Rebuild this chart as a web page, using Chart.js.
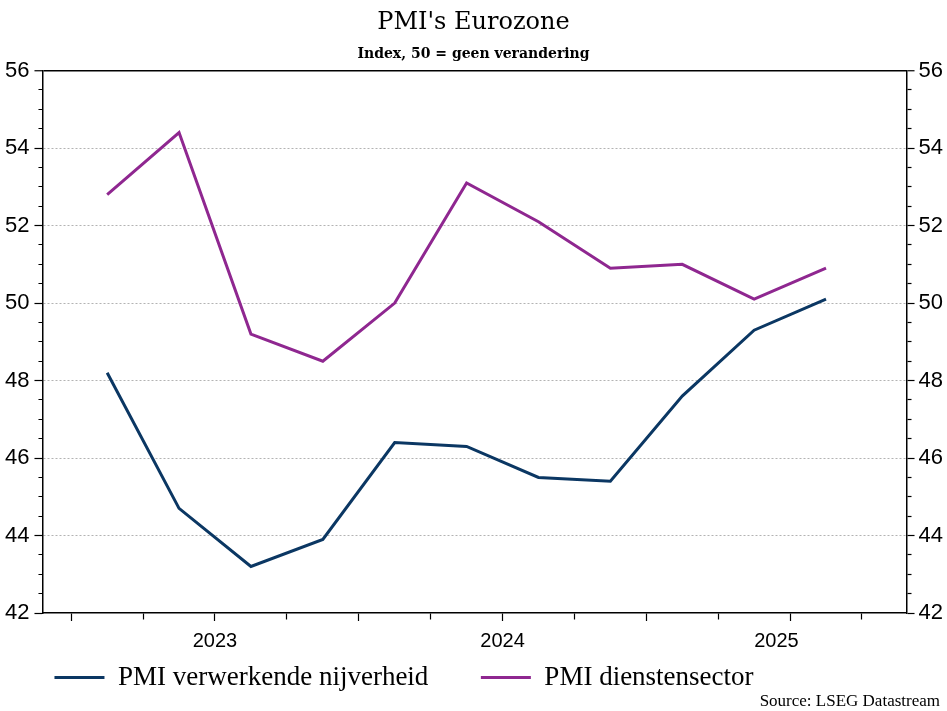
<!DOCTYPE html>
<html>
<head>
<meta charset="utf-8">
<script src="https://cdn.jsdelivr.net/npm/chart.js@4.4.1/dist/chart.umd.min.js"></script>
<style>
    html, body { margin: 0; padding: 0; background: #fff; }
    #wrap { width: 947px; height: 711px; }
</style>
</head>
<body>
<div id="wrap"><canvas id="pmi-chart"></canvas></div>
<script>
// quarterly averages, plotted mid-quarter
const quarters = ['2023Q1', '2023Q2', '2023Q3', '2023Q4', '2024Q1', '2024Q2', '2024Q3', '2024Q4', '2025Q1', '2025Q2', '2025Q3'];
const manufacturing = [48.2, 44.7, 43.2, 43.9, 46.4, 46.3, 45.5, 45.4, 47.6, 49.3, 50.1];
const services = [52.8, 54.4, 49.2, 48.5, 50.0, 53.1, 52.1, 50.9, 51.0, 50.1, 50.9];
const years = ['2023', '2024', '2025'];
const yLabels = [42, 44, 46, 48, 50, 52, 54, 56];

// x runs in quarters, 0 = start of 2023
const xMin = -0.4;
const xMax = 11.62;
const quarterTicks = [0, 1, 2, 3, 4, 5, 6, 7, 8, 9, 10, 11];
const yearCenters = [2, 6, (8 + xMax) / 2];

const toX = q => (parseInt(q.slice(0, 4)) - 2023) * 4 + (parseInt(q.slice(5)) - 1) + 0.5;

const blue = '#0b3763';
const purple = '#8f2790';
const serif = "'DejaVu Serif', serif";
const sans = "'Liberation Sans', Arial, sans-serif";
const legendFont = "'Liberation Serif', serif";

const minorTicks = [];
for (let v = yLabels[0]; v <= yLabels[yLabels.length - 1]; v += 0.5) minorTicks.push(v);

const isMajor = v => v % 2 === 0;

function yAxis(position) {
    return {
        type: 'linear',
        position: position,
        min: 42,
        max: 56,
        afterBuildTicks: scale => { scale.ticks = minorTicks.map(v => ({ value: v })); },
        ticks: {
            autoSkip: false,
            padding: position === 'left' ? 5 : 4,
            color: '#000',
            font: { family: sans, size: 22 },
            callback: v => isMajor(v) ? String(v) : ''
        },
        grid: {
            drawOnChartArea: position === 'left',
            color: ctx => {
                const v = ctx.tick ? ctx.tick.value : 0;
                if (v === 56) return '#000';
                return isMajor(v) && v !== 42 ? '#b3b3b3' : 'rgba(0,0,0,0)';
            },
            lineWidth: ctx => (ctx.tick && ctx.tick.value === 56) ? 1.5 : 1,
            tickColor: '#000',
            tickLength: 8,
            tickWidth: 1.2,
            tickBorderDash: ctx => {
                if (!ctx.tick || isMajor(ctx.tick.value)) return [];
                return position === 'left' ? [0, 4, 4, 100] : [4, 100];
            }
        },
        border: {
            display: true,
            color: '#000',
            width: 1.5,
            dash: ctx => (ctx.tick && ctx.tick.value !== 56) ? [2, 2] : []
        }
    };
}

const sourcePlugin = {
    id: 'sourceNote',
    afterDraw(chart) {
        const ctx = chart.ctx;
        ctx.save();
        ctx.font = "17px " + legendFont;
        ctx.fillStyle = '#000';
        ctx.textAlign = 'right';
        ctx.textBaseline = 'alphabetic';
        ctx.fillText('Source: LSEG Datastream', chart.width - 7, chart.height - 5);
        ctx.restore();
    }
};

const chartEl = document.getElementById('pmi-chart');

new Chart(chartEl, {
    type: 'line',
    data: {
        datasets: [
            {
                label: 'PMI verwerkende nijverheid',
                data: quarters.map((q, i) => ({ x: toX(q), y: manufacturing[i] })),
                borderColor: blue,
                backgroundColor: blue,
                borderWidth: 3,
                pointRadius: 0,
                pointHoverRadius: 0,
                tension: 0
            },
            {
                label: 'PMI dienstensector',
                data: quarters.map((q, i) => ({ x: toX(q), y: services[i] })),
                borderColor: purple,
                backgroundColor: purple,
                borderWidth: 3,
                pointRadius: 0,
                pointHoverRadius: 0,
                tension: 0
            }
        ]
    },
    options: {
        responsive: true,
        maintainAspectRatio: false,
        animation: false,
        layout: { padding: { left: 0, right: 0, top: 0, bottom: 10 } },
        scales: {
            x: {
                type: 'linear',
                position: 'bottom',
                min: xMin,
                max: xMax,
                afterBuildTicks: scale => { scale.ticks = quarterTicks.map(v => ({ value: v })); },
                afterFit: scale => { scale.height = 8; },
                ticks: { display: false },
                grid: {
                    display: true,
                    drawOnChartArea: false,
                    drawTicks: true,
                    tickLength: 8,
                    tickWidth: 1.2,
                    tickColor: '#000',
                    tickBorderDash: ctx => (ctx.tick && ctx.tick.value % 2 === 1) ? [6, 100] : []
                },
                border: { display: true, color: '#000', width: 1.5 }
            },
            years: {
                type: 'linear',
                position: 'bottom',
                min: xMin,
                max: xMax,
                afterBuildTicks: scale => { scale.ticks = yearCenters.map(v => ({ value: v })); },
                afterFit: scale => { scale.height = 31; },
                ticks: {
                    autoSkip: false,
                    maxRotation: 0,
                    padding: 11,
                    color: '#000',
                    font: { family: sans, size: 20, lineHeight: 0.9 },
                    callback: (v, i) => years[i]
                },
                grid: { display: false, drawTicks: false },
                border: { display: false }
            },
            y: yAxis('left'),
            y2: yAxis('right')
        },
        plugins: {
            title: {
                display: true,
                text: "PMI's Eurozone",
                color: '#000',
                font: { family: serif, size: 24, weight: 'normal' },
                padding: { top: 8, bottom: 9 }
            },
            subtitle: {
                display: true,
                text: 'Index, 50 = geen verandering',
                color: '#000',
                font: { family: serif, size: 14, weight: 'bold' },
                padding: { top: 0, bottom: 8 }
            },
            legend: {
                position: 'bottom',
                align: 'start',
                fullSize: false,
                labels: {
                    color: '#000',
                    font: { family: legendFont, size: 27 },
                    boxWidth: 50,
                    boxHeight: 3,
                    padding: 12,
                    generateLabels: chart => {
                        const items = Chart.defaults.plugins.legend.labels.generateLabels(chart);
                        return items.map((item, i) => Object.assign(item, {
                            lineWidth: 0,
                            text: i < items.length - 1 ? item.text + '\u2003\u2002' : item.text
                        }));
                    }
                }
            },
            tooltip: { enabled: false }
        }
    },
    plugins: [sourcePlugin]
});
</script>
</body>
</html>
